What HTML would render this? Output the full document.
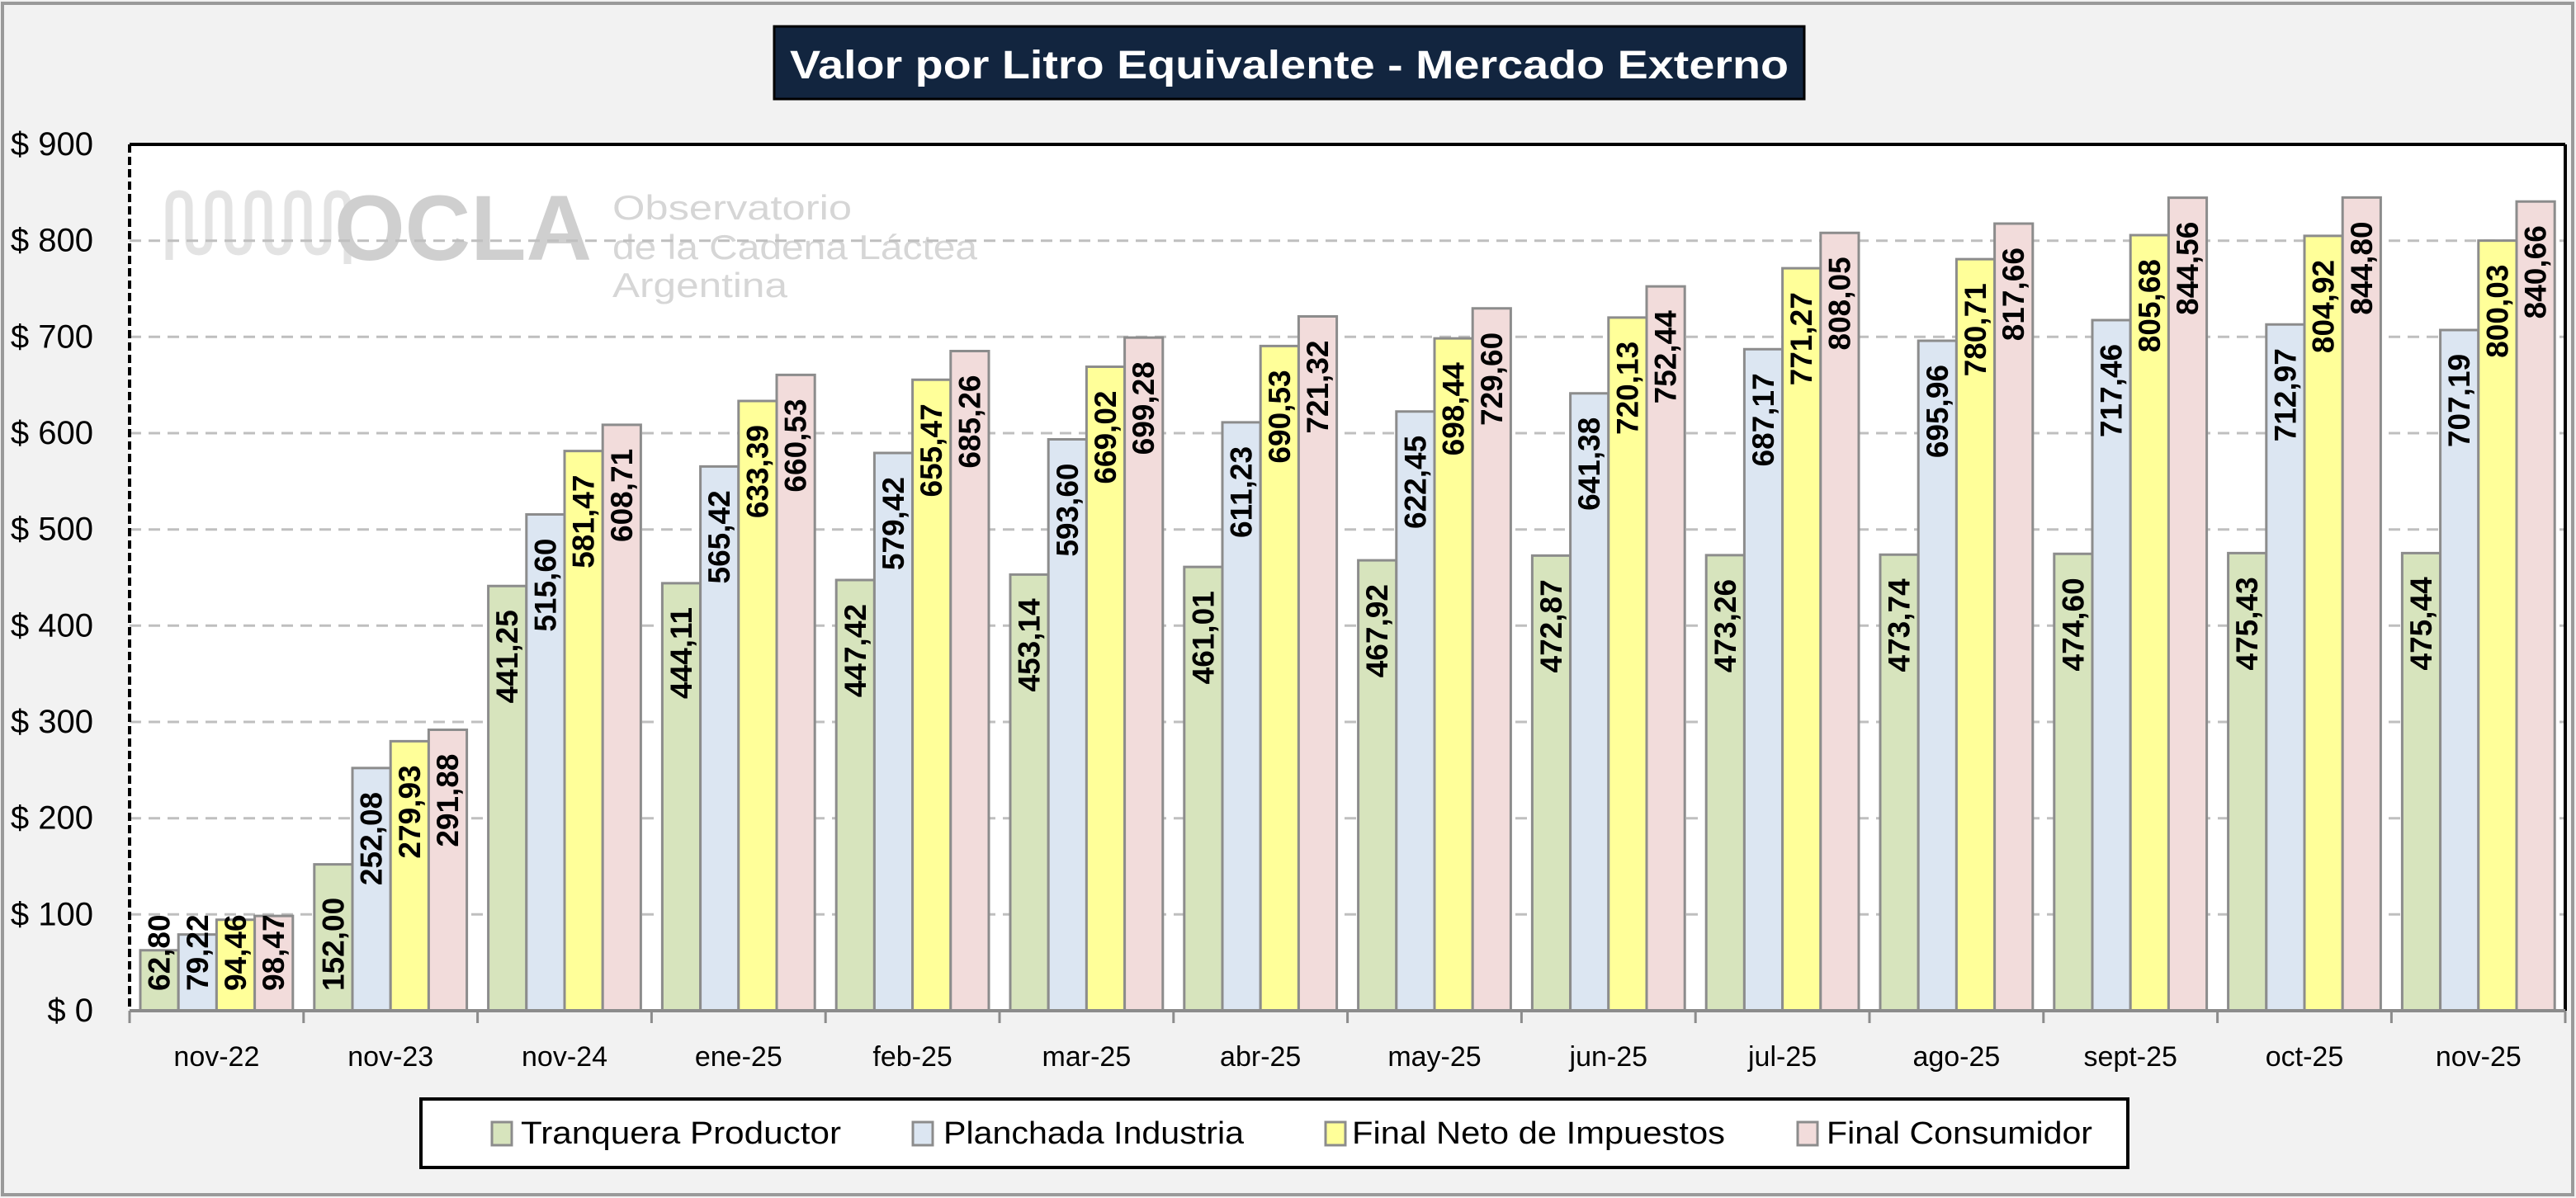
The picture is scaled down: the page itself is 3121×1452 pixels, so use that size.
<!DOCTYPE html>
<html><head><meta charset="utf-8"><style>
html,body{margin:0;padding:0;background:#f2f2f2;}
svg{display:block;}
</style></head><body>
<svg width="3121" height="1452" viewBox="0 0 3121 1452" xmlns="http://www.w3.org/2000/svg" font-family="Liberation Sans, sans-serif">
<rect x="0" y="0" width="3121" height="1452" fill="#f2f2f2"/>
<rect x="3" y="4" width="3114" height="1444" fill="none" stroke="#9a9a9a" stroke-width="4"/>
<!-- title -->
<rect x="938" y="32" width="1248" height="88" fill="#12253f" stroke="#000" stroke-width="3"/>
<text x="1562" y="95" fill="#fff" font-weight="bold" font-size="48" text-anchor="middle" textLength="1210" lengthAdjust="spacingAndGlyphs">Valor por Litro Equivalente - Mercado Externo</text>
<!-- plot area -->
<rect x="157" y="175" width="2951" height="1050" fill="#fff"/>
<!-- watermark -->
<g fill="none" stroke="#e3e3e3" stroke-width="9">
<path d="M205 315 V250 q0-15 12-15 q12 0 12 15 v40 q0 15 12 15 q12 0 12-15 v-40 q0-15 12-15 q12 0 12 15 v40 q0 15 12 15 q12 0 12-15 v-40 q0-15 12-15 q12 0 12 15 v40 q0 15 12 15 q12 0 12-15 v-40 q0-15 12-15 q12 0 12 15 v40 q0 15 12 15 q12 0 12-15 v-40 q0-15 12-15 q12 0 12 15 v70"/>
</g>
<text x="405" y="315" fill="#cfcfcf" font-weight="bold" font-size="112" textLength="312" lengthAdjust="spacingAndGlyphs">OCLA</text>
<text x="742" y="266" fill="#d6d6d6" font-size="42" textLength="290" lengthAdjust="spacingAndGlyphs">Observatorio</text>
<text x="742" y="314" fill="#d6d6d6" font-size="42" textLength="442" lengthAdjust="spacingAndGlyphs">de la Cadena Láctea</text>
<text x="742" y="360" fill="#d6d6d6" font-size="42" textLength="212" lengthAdjust="spacingAndGlyphs">Argentina</text>
<!-- gridlines -->
<g stroke="#bfbfbf" stroke-width="3" stroke-dasharray="14,9">
<line x1="157" x2="3108" y1="291.7" y2="291.7"/>
<line x1="157" x2="3108" y1="408.3" y2="408.3"/>
<line x1="157" x2="3108" y1="525" y2="525"/>
<line x1="157" x2="3108" y1="641.7" y2="641.7"/>
<line x1="157" x2="3108" y1="758.3" y2="758.3"/>
<line x1="157" x2="3108" y1="875" y2="875"/>
<line x1="157" x2="3108" y1="991.7" y2="991.7"/>
<line x1="157" x2="3108" y1="1108.3" y2="1108.3"/>
</g>
<!-- bars -->
<g transform="translate(0,1225) scale(1,-1.16667)" stroke="#8c8c8c" stroke-width="3">
<g transform="translate(170,0)"><rect x="0" width="46.2" height="62.80" fill="#d7e4bd" vector-effect="non-scaling-stroke"/><rect x="46.2" width="46.2" height="79.22" fill="#dce6f2" vector-effect="non-scaling-stroke"/><rect x="92.4" width="46.2" height="94.46" fill="#ffff99" vector-effect="non-scaling-stroke"/><rect x="138.6" width="46.2" height="98.47" fill="#f2dcdb" vector-effect="non-scaling-stroke"/></g>
<g transform="translate(380.8,0)"><rect x="0" width="46.2" height="152.00" fill="#d7e4bd" vector-effect="non-scaling-stroke"/><rect x="46.2" width="46.2" height="252.08" fill="#dce6f2" vector-effect="non-scaling-stroke"/><rect x="92.4" width="46.2" height="279.93" fill="#ffff99" vector-effect="non-scaling-stroke"/><rect x="138.6" width="46.2" height="291.88" fill="#f2dcdb" vector-effect="non-scaling-stroke"/></g>
<g transform="translate(591.6,0)"><rect x="0" width="46.2" height="441.25" fill="#d7e4bd" vector-effect="non-scaling-stroke"/><rect x="46.2" width="46.2" height="515.60" fill="#dce6f2" vector-effect="non-scaling-stroke"/><rect x="92.4" width="46.2" height="581.47" fill="#ffff99" vector-effect="non-scaling-stroke"/><rect x="138.6" width="46.2" height="608.71" fill="#f2dcdb" vector-effect="non-scaling-stroke"/></g>
<g transform="translate(802.4,0)"><rect x="0" width="46.2" height="444.11" fill="#d7e4bd" vector-effect="non-scaling-stroke"/><rect x="46.2" width="46.2" height="565.42" fill="#dce6f2" vector-effect="non-scaling-stroke"/><rect x="92.4" width="46.2" height="633.39" fill="#ffff99" vector-effect="non-scaling-stroke"/><rect x="138.6" width="46.2" height="660.53" fill="#f2dcdb" vector-effect="non-scaling-stroke"/></g>
<g transform="translate(1013.2,0)"><rect x="0" width="46.2" height="447.42" fill="#d7e4bd" vector-effect="non-scaling-stroke"/><rect x="46.2" width="46.2" height="579.42" fill="#dce6f2" vector-effect="non-scaling-stroke"/><rect x="92.4" width="46.2" height="655.47" fill="#ffff99" vector-effect="non-scaling-stroke"/><rect x="138.6" width="46.2" height="685.26" fill="#f2dcdb" vector-effect="non-scaling-stroke"/></g>
<g transform="translate(1224,0)"><rect x="0" width="46.2" height="453.14" fill="#d7e4bd" vector-effect="non-scaling-stroke"/><rect x="46.2" width="46.2" height="593.60" fill="#dce6f2" vector-effect="non-scaling-stroke"/><rect x="92.4" width="46.2" height="669.02" fill="#ffff99" vector-effect="non-scaling-stroke"/><rect x="138.6" width="46.2" height="699.28" fill="#f2dcdb" vector-effect="non-scaling-stroke"/></g>
<g transform="translate(1434.8,0)"><rect x="0" width="46.2" height="461.01" fill="#d7e4bd" vector-effect="non-scaling-stroke"/><rect x="46.2" width="46.2" height="611.23" fill="#dce6f2" vector-effect="non-scaling-stroke"/><rect x="92.4" width="46.2" height="690.53" fill="#ffff99" vector-effect="non-scaling-stroke"/><rect x="138.6" width="46.2" height="721.32" fill="#f2dcdb" vector-effect="non-scaling-stroke"/></g>
<g transform="translate(1645.6,0)"><rect x="0" width="46.2" height="467.92" fill="#d7e4bd" vector-effect="non-scaling-stroke"/><rect x="46.2" width="46.2" height="622.45" fill="#dce6f2" vector-effect="non-scaling-stroke"/><rect x="92.4" width="46.2" height="698.44" fill="#ffff99" vector-effect="non-scaling-stroke"/><rect x="138.6" width="46.2" height="729.60" fill="#f2dcdb" vector-effect="non-scaling-stroke"/></g>
<g transform="translate(1856.4,0)"><rect x="0" width="46.2" height="472.87" fill="#d7e4bd" vector-effect="non-scaling-stroke"/><rect x="46.2" width="46.2" height="641.38" fill="#dce6f2" vector-effect="non-scaling-stroke"/><rect x="92.4" width="46.2" height="720.13" fill="#ffff99" vector-effect="non-scaling-stroke"/><rect x="138.6" width="46.2" height="752.44" fill="#f2dcdb" vector-effect="non-scaling-stroke"/></g>
<g transform="translate(2067.2,0)"><rect x="0" width="46.2" height="473.26" fill="#d7e4bd" vector-effect="non-scaling-stroke"/><rect x="46.2" width="46.2" height="687.17" fill="#dce6f2" vector-effect="non-scaling-stroke"/><rect x="92.4" width="46.2" height="771.27" fill="#ffff99" vector-effect="non-scaling-stroke"/><rect x="138.6" width="46.2" height="808.05" fill="#f2dcdb" vector-effect="non-scaling-stroke"/></g>
<g transform="translate(2278,0)"><rect x="0" width="46.2" height="473.74" fill="#d7e4bd" vector-effect="non-scaling-stroke"/><rect x="46.2" width="46.2" height="695.96" fill="#dce6f2" vector-effect="non-scaling-stroke"/><rect x="92.4" width="46.2" height="780.71" fill="#ffff99" vector-effect="non-scaling-stroke"/><rect x="138.6" width="46.2" height="817.66" fill="#f2dcdb" vector-effect="non-scaling-stroke"/></g>
<g transform="translate(2488.8,0)"><rect x="0" width="46.2" height="474.60" fill="#d7e4bd" vector-effect="non-scaling-stroke"/><rect x="46.2" width="46.2" height="717.46" fill="#dce6f2" vector-effect="non-scaling-stroke"/><rect x="92.4" width="46.2" height="805.68" fill="#ffff99" vector-effect="non-scaling-stroke"/><rect x="138.6" width="46.2" height="844.56" fill="#f2dcdb" vector-effect="non-scaling-stroke"/></g>
<g transform="translate(2699.6,0)"><rect x="0" width="46.2" height="475.43" fill="#d7e4bd" vector-effect="non-scaling-stroke"/><rect x="46.2" width="46.2" height="712.97" fill="#dce6f2" vector-effect="non-scaling-stroke"/><rect x="92.4" width="46.2" height="804.92" fill="#ffff99" vector-effect="non-scaling-stroke"/><rect x="138.6" width="46.2" height="844.80" fill="#f2dcdb" vector-effect="non-scaling-stroke"/></g>
<g transform="translate(2910.4,0)"><rect x="0" width="46.2" height="475.44" fill="#d7e4bd" vector-effect="non-scaling-stroke"/><rect x="46.2" width="46.2" height="707.19" fill="#dce6f2" vector-effect="non-scaling-stroke"/><rect x="92.4" width="46.2" height="800.03" fill="#ffff99" vector-effect="non-scaling-stroke"/><rect x="138.6" width="46.2" height="840.66" fill="#f2dcdb" vector-effect="non-scaling-stroke"/></g>
</g>
<!-- plot border & axes -->
<line x1="157" y1="175" x2="3108" y2="175" stroke="#000" stroke-width="4"/>
<line x1="3108" y1="175" x2="3108" y2="1225" stroke="#000" stroke-width="4"/>
<line x1="157" y1="175" x2="157" y2="1225" stroke="#000" stroke-width="4" stroke-dasharray="10,5"/>
<line x1="157" y1="1225" x2="3108" y2="1225" stroke="#8c8c8c" stroke-width="4"/>
<g stroke="#8c8c8c" stroke-width="3">
<line x1="157" x2="157" y1="1225" y2="1240"/><line x1="367.8" x2="367.8" y1="1225" y2="1240"/><line x1="578.6" x2="578.6" y1="1225" y2="1240"/><line x1="789.4" x2="789.4" y1="1225" y2="1240"/><line x1="1000.2" x2="1000.2" y1="1225" y2="1240"/><line x1="1211" x2="1211" y1="1225" y2="1240"/><line x1="1421.8" x2="1421.8" y1="1225" y2="1240"/><line x1="1632.6" x2="1632.6" y1="1225" y2="1240"/><line x1="1843.4" x2="1843.4" y1="1225" y2="1240"/><line x1="2054.2" x2="2054.2" y1="1225" y2="1240"/><line x1="2265" x2="2265" y1="1225" y2="1240"/><line x1="2475.8" x2="2475.8" y1="1225" y2="1240"/><line x1="2686.6" x2="2686.6" y1="1225" y2="1240"/><line x1="2897.4" x2="2897.4" y1="1225" y2="1240"/><line x1="3108" x2="3108" y1="1225" y2="1240"/>
</g>
<!-- y labels -->
<g font-size="40" text-anchor="end" fill="#000" dominant-baseline="central">
<text x="113" y="175">$ 900</text><text x="113" y="291.7">$ 800</text><text x="113" y="408.3">$ 700</text><text x="113" y="525">$ 600</text><text x="113" y="641.7">$ 500</text><text x="113" y="758.3">$ 400</text><text x="113" y="875">$ 300</text><text x="113" y="991.7">$ 200</text><text x="113" y="1108.3">$ 100</text><text x="113" y="1225">$ 0</text>
</g>
<!-- x labels -->
<g font-size="34" text-anchor="middle" fill="#000">
<text x="262.4" y="1292">nov-22</text><text x="473.2" y="1292">nov-23</text><text x="684" y="1292">nov-24</text><text x="894.8" y="1292">ene-25</text><text x="1105.6" y="1292">feb-25</text><text x="1316.4" y="1292">mar-25</text><text x="1527.2" y="1292">abr-25</text><text x="1738" y="1292">may-25</text><text x="1948.8" y="1292">jun-25</text><text x="2159.6" y="1292">jul-25</text><text x="2370.4" y="1292">ago-25</text><text x="2581.2" y="1292">sept-25</text><text x="2792" y="1292">oct-25</text><text x="3002.8" y="1292">nov-25</text>
</g>
<!-- data labels -->
<g font-size="37" font-weight="bold" fill="#000" dominant-baseline="central">
<g text-anchor="start">
<text transform="translate(193.1,1201) rotate(-90)">62,80</text>
<text transform="translate(239.3,1201) rotate(-90)">79,22</text>
<text transform="translate(285.5,1201) rotate(-90)">94,46</text>
<text transform="translate(331.7,1201) rotate(-90)">98,47</text>
<text transform="translate(403.9,1201) rotate(-90)">152,00</text>
</g>
<g text-anchor="end">
<text transform="translate(450.1,959.9) rotate(-90)">252,08</text>
<text transform="translate(496.3,927.4) rotate(-90)">279,93</text>
<text transform="translate(542.5,913.5) rotate(-90)">291,88</text>
<text transform="translate(614.7,739.2) rotate(-90)">441,25</text>
<text transform="translate(660.9,652.5) rotate(-90)">515,60</text>
<text transform="translate(707.1,575.6) rotate(-90)">581,47</text>
<text transform="translate(753.3,543.8) rotate(-90)">608,71</text>
<text transform="translate(825.5,735.9) rotate(-90)">444,11</text>
<text transform="translate(871.7,594.3) rotate(-90)">565,42</text>
<text transform="translate(917.9,515.0) rotate(-90)">633,39</text>
<text transform="translate(964.1,483.4) rotate(-90)">660,53</text>
<text transform="translate(1036.3,732.0) rotate(-90)">447,42</text>
<text transform="translate(1082.5,578.0) rotate(-90)">579,42</text>
<text transform="translate(1128.7,489.3) rotate(-90)">655,47</text>
<text transform="translate(1174.9,454.5) rotate(-90)">685,26</text>
<text transform="translate(1247.1,725.3) rotate(-90)">453,14</text>
<text transform="translate(1293.3,561.5) rotate(-90)">593,60</text>
<text transform="translate(1339.5,473.5) rotate(-90)">669,02</text>
<text transform="translate(1385.7,438.2) rotate(-90)">699,28</text>
<text transform="translate(1457.9,716.2) rotate(-90)">461,01</text>
<text transform="translate(1504.1,540.9) rotate(-90)">611,23</text>
<text transform="translate(1550.3,448.4) rotate(-90)">690,53</text>
<text transform="translate(1596.5,412.5) rotate(-90)">721,32</text>
<text transform="translate(1668.7,708.1) rotate(-90)">467,92</text>
<text transform="translate(1714.9,527.8) rotate(-90)">622,45</text>
<text transform="translate(1761.1,439.2) rotate(-90)">698,44</text>
<text transform="translate(1807.3,402.8) rotate(-90)">729,60</text>
<text transform="translate(1879.5,702.3) rotate(-90)">472,87</text>
<text transform="translate(1925.7,505.7) rotate(-90)">641,38</text>
<text transform="translate(1971.9,413.8) rotate(-90)">720,13</text>
<text transform="translate(2018.1,376.2) rotate(-90)">752,44</text>
<text transform="translate(2090.3,701.9) rotate(-90)">473,26</text>
<text transform="translate(2136.5,452.3) rotate(-90)">687,17</text>
<text transform="translate(2182.7,354.2) rotate(-90)">771,27</text>
<text transform="translate(2228.9,311.3) rotate(-90)">808,05</text>
<text transform="translate(2301.1,701.3) rotate(-90)">473,74</text>
<text transform="translate(2347.3,442.0) rotate(-90)">695,96</text>
<text transform="translate(2393.5,343.2) rotate(-90)">780,71</text>
<text transform="translate(2439.7,300.1) rotate(-90)">817,66</text>
<text transform="translate(2511.9,700.3) rotate(-90)">474,60</text>
<text transform="translate(2558.1,416.9) rotate(-90)">717,46</text>
<text transform="translate(2604.3,314.0) rotate(-90)">805,68</text>
<text transform="translate(2650.5,268.7) rotate(-90)">844,56</text>
<text transform="translate(2722.7,699.3) rotate(-90)">475,43</text>
<text transform="translate(2768.9,422.2) rotate(-90)">712,97</text>
<text transform="translate(2815.1,314.9) rotate(-90)">804,92</text>
<text transform="translate(2861.3,268.4) rotate(-90)">844,80</text>
<text transform="translate(2933.5,699.3) rotate(-90)">475,44</text>
<text transform="translate(2979.7,428.9) rotate(-90)">707,19</text>
<text transform="translate(3025.9,320.6) rotate(-90)">800,03</text>
<text transform="translate(3072.1,273.2) rotate(-90)">840,66</text>
</g>
</g>
<!-- legend -->
<rect x="510" y="1332" width="2068" height="83" fill="#fff" stroke="#000" stroke-width="4"/>
<g stroke="#8c8c8c" stroke-width="3">
<rect x="596" y="1360" width="24" height="28" fill="#d7e4bd"/>
<rect x="1106" y="1360" width="24" height="28" fill="#dce6f2"/>
<rect x="1606" y="1360" width="24" height="28" fill="#ffff99"/>
<rect x="2178" y="1360" width="24" height="28" fill="#f2dcdb"/>
</g>
<g font-size="38" fill="#000">
<text x="631" y="1386" textLength="388" lengthAdjust="spacingAndGlyphs">Tranquera Productor</text>
<text x="1143" y="1386" textLength="364" lengthAdjust="spacingAndGlyphs">Planchada Industria</text>
<text x="1638" y="1386" textLength="452" lengthAdjust="spacingAndGlyphs">Final Neto de Impuestos</text>
<text x="2213" y="1386" textLength="322" lengthAdjust="spacingAndGlyphs">Final Consumidor</text>
</g>
</svg>
</body></html>
